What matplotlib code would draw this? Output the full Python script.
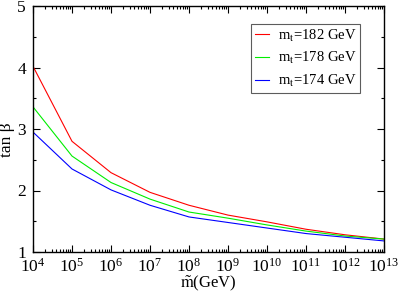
import numpy as np
import matplotlib.pyplot as plt
from matplotlib.ticker import LogLocator, MultipleLocator

# data
msusy = [1e4, 1e5, 1e6, 1e7, 1e8, 1e9, 1e10, 1e11, 1e12, 1e13]
tanb_182 = [4.02, 2.80, 2.29, 1.97, 1.76, 1.60, 1.49, 1.37, 1.28, 1.21]
tanb_178 = [3.36, 2.56, 2.13, 1.86, 1.65, 1.55, 1.44, 1.34, 1.26, 1.21]
tanb_174 = [2.95, 2.35, 2.01, 1.76, 1.57, 1.48, 1.39, 1.30, 1.24, 1.18]
labels = [r"m$_{\rm t}$=182 GeV", r"m$_{\rm t}$=178 GeV", r"m$_{\rm t}$=174 GeV"]

plt.rcParams["font.family"] = "Liberation Serif"
plt.rcParams["mathtext.fontset"] = "stix"

fig = plt.figure(figsize=(3.99, 2.96), dpi=100)
ax = fig.add_axes([33 / 399, 44 / 296, 351 / 399, 246 / 296])

ax.plot(msusy, tanb_182, color="#ff0000", lw=0.8, label=labels[0])
ax.plot(msusy, tanb_178, color="#00ee00", lw=0.8, label=labels[1])
ax.plot(msusy, tanb_174, color="#0000ff", lw=0.8, label=labels[2])

ax.set_xscale("log")
ax.set_xlim(1e4, 1e13)
ax.set_ylim(1, 5)
ax.xaxis.set_major_locator(LogLocator(base=10, numticks=20))
ax.xaxis.set_minor_locator(LogLocator(base=10, subs=np.arange(2, 10), numticks=200))
ax.yaxis.set_major_locator(MultipleLocator(1))
ax.yaxis.set_minor_locator(MultipleLocator(0.5))
ax.tick_params(which="both", direction="in", top=True, right=True, labelsize=12.5, width=0.8)
ax.tick_params(which="major", length=5)
ax.tick_params(which="minor", length=2.5)
ax.tick_params(axis="x", pad=4)
ax.tick_params(axis="y", pad=5)
for s in ax.spines.values():
    s.set_linewidth(1.0)

ax.set_xlabel(r"$\tilde{\rm m}$(GeV)", fontsize=12)
ax.xaxis.set_label_coords(0.5, -0.088)
ax.set_ylabel("tan β", fontsize=12.5)
ax.yaxis.set_label_coords(-0.05, 0.455)

leg = ax.legend(loc="upper right", bbox_to_anchor=(0.932, 0.927), fontsize=10.5,
                fancybox=False, edgecolor="#333333", handlelength=1.0,
                borderaxespad=0, labelspacing=0.45, handletextpad=0.6, borderpad=0.25)
leg.get_frame().set_linewidth(0.8)

fig.savefig("out.png", dpi=100)
